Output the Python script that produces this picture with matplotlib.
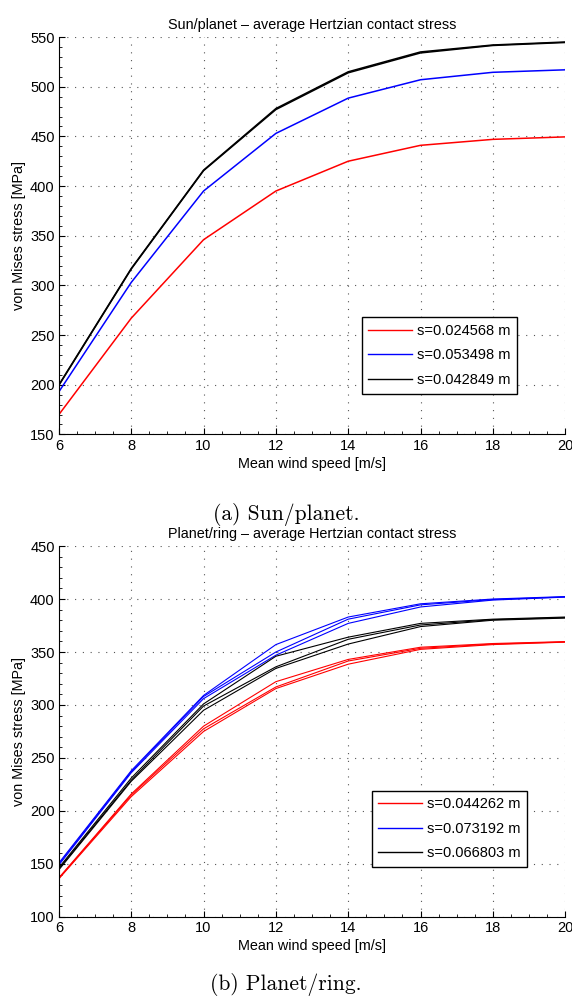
#%% Import libs
import numpy as np
import matplotlib
matplotlib.use("Agg")
import matplotlib.pyplot as plt
from matplotlib.ticker import MultipleLocator, AutoMinorLocator

plt.rcParams['font.family'] = ['Liberation Sans', 'DejaVu Sans']

#%% Data
wind = [6, 8, 10, 12, 14, 16, 18, 20]

# (a) Sun/planet
sp_labels = ["s=0.024568 m", "s=0.053498 m", "s=0.042849 m"]
sp_red = [[170, 267, 346, 395, 425, 441, 447, 449.5]]
sp_blue = [[193, 303, 395, 453, 488.5, 507, 514.5, 517]]
sp_black = [[200, 317, 416, 478, 515, 535, 542, 545],
            [199.5, 316.5, 415.5, 477, 514, 534, 541.5, 544.5]]

# (b) Planet/ring
pr_labels = ["s=0.044262 m", "s=0.073192 m", "s=0.066803 m"]
pr_red = [[137, 216, 280, 322, 343, 354.5, 358, 359.8],
          [136.5, 215, 277.5, 317, 341.5, 353.5, 357.5, 359.5],
          [136, 213.5, 275, 315.5, 338.5, 352.5, 357, 359.3]]
pr_blue = [[151, 238, 309, 357, 383, 395.5, 400, 402.3],
           [150, 237, 308, 350, 381, 394.5, 399.5, 402],
           [149, 236, 306, 347, 377, 392.5, 399, 401.8]]
pr_black = [[146.5, 231, 301, 346, 364, 377, 381, 383],
            [145.5, 229, 299, 336, 362, 375.5, 380.5, 382.5],
            [144.5, 228, 295, 334.5, 357.5, 374, 380, 382]]


#%% Helper to draw one panel
def draw_panel(ax, groups, labels, title, ylim, lw, leg_anchor):
    colors = ['#ff0000', '#0000ff', 'black']
    for grp, col, lab in zip(groups, colors, labels):
        for i, vals in enumerate(grp):
            ax.plot(wind, vals, color=col, lw=lw, label=lab if i == 0 else None)
    ax.set_xlim(6, 20)
    ax.set_ylim(*ylim)
    ax.xaxis.set_major_locator(MultipleLocator(2))
    ax.yaxis.set_major_locator(MultipleLocator(50))
    ax.xaxis.set_minor_locator(AutoMinorLocator(4))
    ax.yaxis.set_minor_locator(AutoMinorLocator(5))
    ax.grid(True, which='major', color='#555555', lw=0.8, linestyle=(0, (1, 6)))
    ax.spines['top'].set_visible(False)
    ax.spines['right'].set_visible(False)
    ax.tick_params(which='both', direction='in', labelsize=10.5, pad=3)
    ax.tick_params(which='major', length=4)
    ax.tick_params(which='minor', length=2)
    ax.set_title(title, fontsize=10.4, pad=6)
    ax.set_xlabel("Mean wind speed [m/s]", fontsize=10.4, labelpad=3)
    ax.set_ylabel("von Mises stress [MPa]", fontsize=10.4, labelpad=3)
    leg = ax.legend(loc='lower right', bbox_to_anchor=leg_anchor, fontsize=10.5,
                    handlelength=3.0, handletextpad=0.35, fancybox=False,
                    framealpha=1, edgecolor='black', borderpad=0.45,
                    labelspacing=0.72, borderaxespad=0)
    leg.get_frame().set_linewidth(1.0)
    for h in leg.get_lines():
        h.set_linewidth(1.0)


#%% Figure
fig = plt.figure(figsize=(5.72, 10.01), dpi=100)
ax1 = fig.add_axes([0.103, 0.566, 0.885, 0.397])
ax2 = fig.add_axes([0.103, 0.084, 0.885, 0.3705])

draw_panel(ax1, [sp_red, sp_blue, sp_black], sp_labels,
           "Sun/planet \u2013 average Hertzian contact stress", (150, 550), 1.1, (0.905, 0.103))
draw_panel(ax2, [pr_red, pr_blue, pr_black], pr_labels,
           "Planet/ring \u2013 average Hertzian contact stress", (100, 450), 0.8, (0.925, 0.135))

fig.text(0.5, 1 - 514 / 1001, "(a) Sun/planet.", family='cmr10', fontsize=15.5,
         ha='center', va='center')
fig.text(0.5, 1 - 984 / 1001, "(b) Planet/ring.", family='cmr10', fontsize=15.5,
         ha='center', va='center')

fig.savefig("out.png", dpi=100)
